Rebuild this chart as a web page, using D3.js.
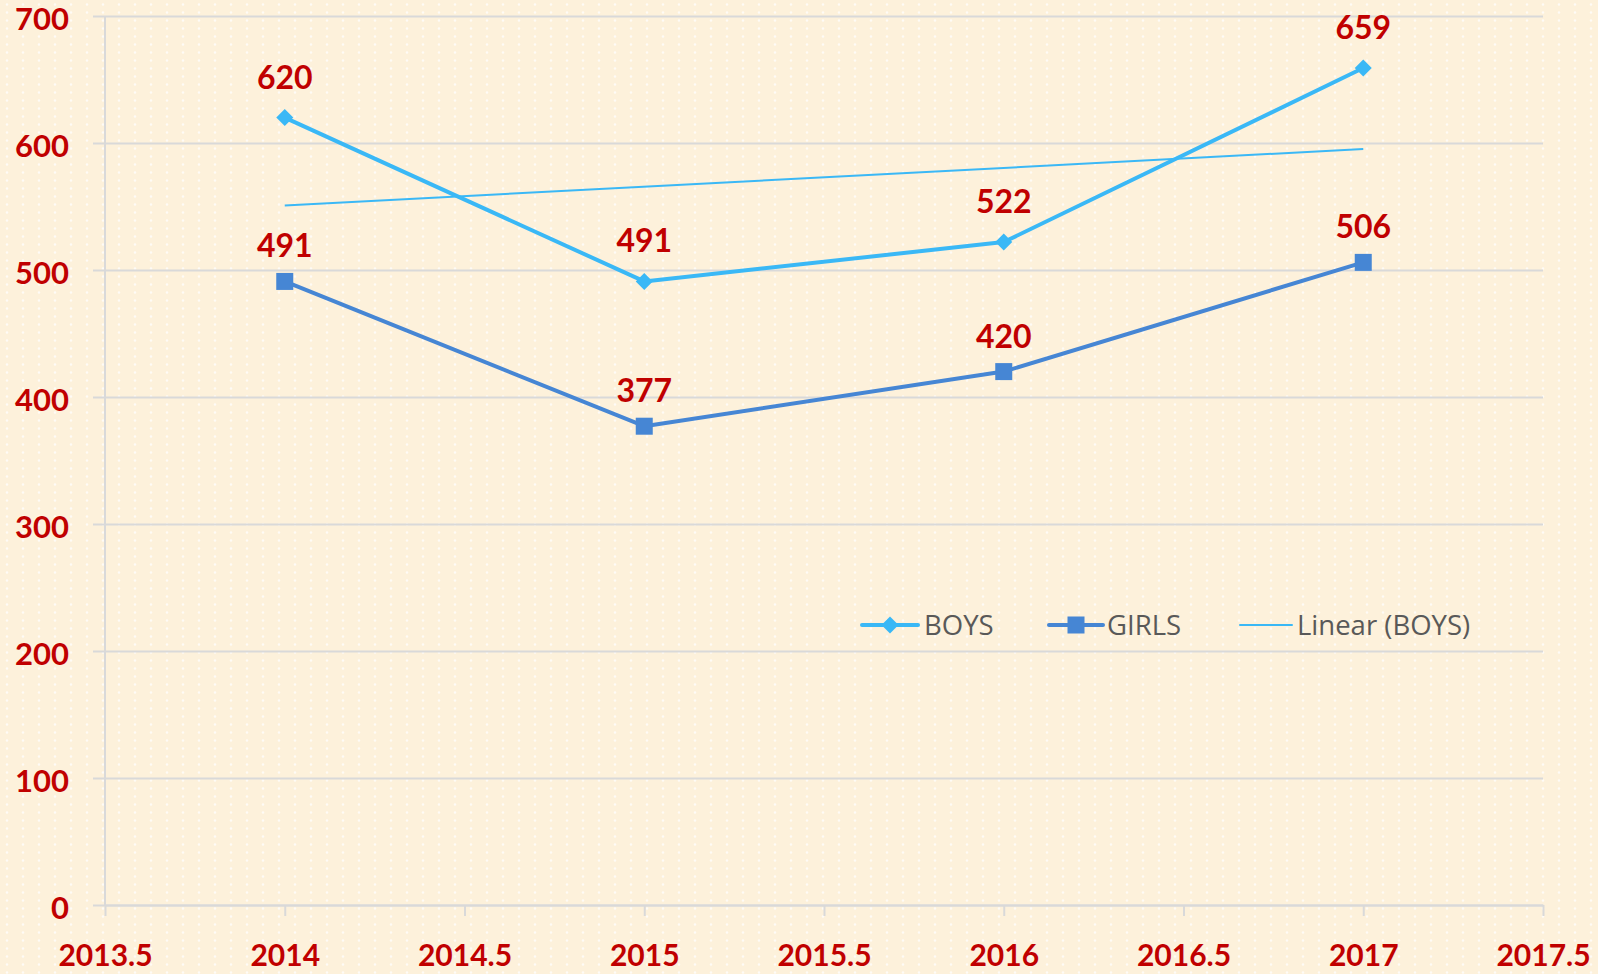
<!DOCTYPE html>
<html>
<head>
<meta charset="utf-8">
<script src="https://cdn.jsdelivr.net/npm/d3@7"></script>
<style>
  body { margin: 0; background: #fdf1db; }
  svg { display: block; }
</style>
</head>
<body>
<svg></svg>
<script>
// chart values
var years = [2014, 2015, 2016, 2017]
var boys = [620, 491, 522, 659]
var girls = [491, 377, 420, 506]
var xTicks = [2013.5, 2014, 2014.5, 2015, 2015.5, 2016, 2016.5, 2017, 2017.5]
var yTicks = [0, 100, 200, 300, 400, 500, 600, 700]
var legendNames = ['BOYS', 'GIRLS', 'Linear (BOYS)']

function main() {
    var svgWidth = 1598, svgHeight = 974
    var left = 105, right = 1543, top = 16, bottom = 905
    var boysColor = '#3ab8f6', girlsColor = '#4686d4', red = '#c00000', grid = '#d9d9d9'
    var font = 'Lato, "Open Sans", sans-serif'

    var svg = d3.select('svg').attr('width', svgWidth).attr('height', svgHeight)

    // dotted background
    var pat = svg.append('defs').append('pattern')
        .attr('id', 'dots').attr('width', 16).attr('height', 8)
        .attr('patternUnits', 'userSpaceOnUse').attr('x', 5).attr('y', 3)
    pat.append('rect').attr('width', 16).attr('height', 8).attr('fill', '#fdf1db')
    pat.append('circle').attr('cx', 2).attr('cy', 1.5).attr('r', 1.2).attr('fill', '#ffffff').attr('opacity', 0.75)
    svg.append('rect').attr('width', svgWidth).attr('height', svgHeight).attr('fill', 'url(#dots)')

    var x = d3.scaleLinear().domain([2013.5, 2017.5]).range([left, right])
    var y = d3.scaleLinear().domain([0, 700]).range([bottom, top])

    // gridlines + y labels
    var yAxis = svg.append('g').attr('transform', `translate(${left},0)`)
        .call(d3.axisLeft(y).tickValues(yTicks).tickSize(-(right - left)).tickSizeOuter(0).tickPadding(36))
    yAxis.select('.domain').remove()
    yAxis.selectAll('.tick line').attr('stroke', grid).attr('stroke-width', 2).attr('x1', -12)
    yAxis.selectAll('.tick text')
        .attr('fill', red).attr('font-family', font).attr('dy', '0.45em')
        .attr('font-weight', 'bold').attr('font-size', 31)

    // vertical axis line
    svg.append('line').attr('x1', left).attr('x2', left).attr('y1', top).attr('y2', bottom)
        .attr('stroke', grid).attr('stroke-width', 2)

    // x axis
    var xAxis = svg.append('g').attr('transform', `translate(0,${bottom})`)
        .call(d3.axisBottom(x).tickValues(xTicks).tickFormat(d3.format('')).tickSize(11).tickSizeOuter(0).tickPadding(29))
    xAxis.select('.domain').attr('stroke', grid).attr('stroke-width', 2)
    xAxis.selectAll('.tick line').attr('stroke', grid).attr('stroke-width', 2)
    xAxis.selectAll('.tick text')
        .attr('fill', red).attr('font-family', font)
        .attr('font-weight', 'bold').attr('font-size', 30)

    // linear trend of boys (least squares)
    var mx = d3.mean(years), my = d3.mean(boys)
    var slope = d3.sum(years, (d, i) => (d - mx) * (boys[i] - my)) / d3.sum(years, d => (d - mx) * (d - mx))
    var trend = [years[0], years[years.length - 1]].map(d => [d, my + slope * (d - mx)])
    svg.append('line')
        .attr('x1', x(trend[0][0])).attr('y1', y(trend[0][1]))
        .attr('x2', x(trend[1][0])).attr('y2', y(trend[1][1]))
        .attr('stroke', boysColor).attr('stroke-width', 2)

    var line = d3.line().x(d => x(d[0])).y(d => y(d[1]))

    // girls
    var girlsPts = years.map((d, i) => [d, girls[i]])
    svg.append('path').datum(girlsPts).attr('d', line)
        .attr('fill', 'none').attr('stroke', girlsColor).attr('stroke-width', 4).attr('stroke-linejoin', 'round')
    svg.selectAll('.gm').data(girlsPts).enter().append('rect')
        .attr('x', d => x(d[0]) - 8.5).attr('y', d => y(d[1]) - 8.5)
        .attr('width', 17).attr('height', 17).attr('fill', girlsColor)

    // boys
    var boysPts = years.map((d, i) => [d, boys[i]])
    svg.append('path').datum(boysPts).attr('d', line)
        .attr('fill', 'none').attr('stroke', boysColor).attr('stroke-width', 4).attr('stroke-linejoin', 'round')
    svg.selectAll('.bm').data(boysPts).enter().append('path')
        .attr('d', d3.symbol(d3.symbolDiamond2, 185))
        .attr('transform', d => `translate(${x(d[0])},${y(d[1])})`)
        .attr('fill', boysColor)

    // data labels
    function labels(pts, off) {
        svg.append('g').selectAll('text').data(pts).enter().append('text')
            .attr('x', d => x(d[0])).attr('y', d => y(d[1]) - off)
            .attr('text-anchor', 'middle').attr('fill', red)
            .attr('font-family', font)
            .attr('font-weight', 'bold').attr('font-size', 32)
            .text(d => d[1])
    }
    labels(boysPts, 29)
    labels(girlsPts, 24)

    // legend
    var ly = 625
    var leg = [
        {x0: 862, x1: 918, tx: 924, color: boysColor, w: 4, mark: 'diamond'},
        {x0: 1049, x1: 1103, tx: 1107, color: girlsColor, w: 4, mark: 'square'},
        {x0: 1240, x1: 1292, tx: 1297, color: boysColor, w: 2, mark: null}
    ]
    leg.forEach(function(l, i) {
        svg.append('line').attr('x1', l.x0).attr('x2', l.x1).attr('y1', ly).attr('y2', ly)
            .attr('stroke', l.color).attr('stroke-width', l.w).attr('stroke-linecap', 'round')
        var cx = (l.x0 + l.x1) / 2
        if (l.mark == 'diamond') {
            svg.append('path').attr('d', d3.symbol(d3.symbolDiamond2, 185))
                .attr('transform', `translate(${cx},${ly})`).attr('fill', l.color)
        } else if (l.mark == 'square') {
            svg.append('rect').attr('x', cx - 8.5).attr('y', ly - 8.5).attr('width', 17).attr('height', 17).attr('fill', l.color)
        }
        svg.append('text').attr('x', l.tx).attr('y', ly).attr('dy', '0.35em')
            .attr('fill', '#595959').attr('font-family', '"Open Sans", sans-serif')
            .attr('font-size', 27.5).text(legendNames[i])
    })
}
main()
</script>
</body>
</html>
